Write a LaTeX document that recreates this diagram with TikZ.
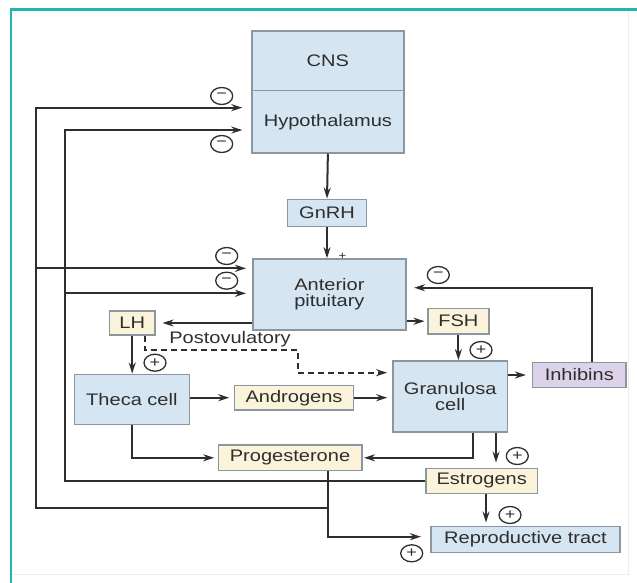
\documentclass[tikz,border=0pt]{standalone}
\usepackage{fontspec}
\setmainfont[FakeStretch=1.2]{Liberation Sans}
\usetikzlibrary{arrows.meta,shapes.geometric,calc}

\definecolor{boxblue}{HTML}{D5E5F1}
\definecolor{boxcream}{HTML}{FBF3DA}
\definecolor{boxlilac}{HTML}{DCD3EB}
\definecolor{boxedge}{HTML}{8C96A0}
\definecolor{frameteal}{HTML}{22B5B0}
\definecolor{inktext}{HTML}{2E2E2E}

\tikzset{
	box/.style={draw=boxedge, line width=1.5pt, inner sep=0pt, align=center, text=inktext, font=\fontsize{16.7}{16}\selectfont},
	bluebox/.style={box, fill=boxblue},
	creambox/.style={box, fill=boxcream},
	lilacbox/.style={box, fill=boxlilac},
	arr/.style={line width=2pt, draw=inktext, -{Stealth[length=11pt,width=7pt]}},
	dashline/.style={arr, dash pattern=on 6pt off 4pt},
	signnode/.style={ellipse, draw=inktext, line width=1.3pt, minimum width=22pt, minimum height=17pt, inner sep=0pt, text=inktext, font=\fontsize{15}{15}\selectfont},
	label/.style={text=inktext, font=\fontsize{16.7}{16}\selectfont, inner sep=0pt}
}

\begin{document}
\begin{tikzpicture}[x=1pt, y=-1pt]
	\useasboundingbox (0,0) rectangle (637,583);

	% Frame
	\draw[black!7, line width=1pt] (628,9.5) -- (628,574) -- (11,574);
	\draw[frameteal, line width=2.5pt] (11,583) -- (11,9.5) -- (637,9.5);

	% Boxes
	\node[bluebox, minimum width=152.3pt, minimum height=59.7pt] (cns) at (327.9,60.9) {CNS};
	\node[bluebox, minimum width=152.3pt, minimum height=62.3pt] (hyp) at (327.9,121.85) {Hypothalamus};
	\node[bluebox, minimum width=79.4pt, minimum height=27.4pt] (gnrh) at (327,213) {GnRH};
	\node[bluebox, minimum width=153.3pt, minimum height=71pt] (ant) at (329.4,294.5) {Anterior\\pituitary};
	\node[creambox, minimum width=45.7pt, minimum height=24pt] (lh) at (132.2,323) {LH};
	\node[creambox, minimum width=61.3pt, minimum height=25.7pt] (fsh) at (458.4,321.2) {FSH};
	\node[bluebox, minimum width=115.3pt, minimum height=50pt] (theca) at (131.9,399.3) {Theca cell};
	\node[creambox, minimum width=119.3pt, minimum height=24.7pt] (andr) at (294,397.7) {Androgens};
	\node[bluebox, minimum width=114.8pt, minimum height=71.2pt] (gran) at (450.2,396.4) {Granulosa\\cell};
	\node[lilacbox, minimum width=93.3pt, minimum height=25.4pt] (inh) at (579.3,375) {Inhibins};
	\node[creambox, minimum width=143.5pt, minimum height=25.5pt] (prog) at (290,457.8) {Progesterone};
	\node[creambox, minimum width=111.3pt, minimum height=25pt] (est) at (481.7,480.8) {Estrogens};
	\node[bluebox, minimum width=189pt, minimum height=25.6pt] (rep) at (525.5,539.5) {Reproductive tract};

	% Points
	\coordinate (lhdash) at ([xshift=12.8pt]lh.south);
	\coordinate (postbend) at (297.5,350);
	\coordinate (grandash) at ([yshift=23.7pt]gran.west);
	\coordinate (inhout) at ([xshift=12.4pt]inh.north);
	\coordinate (antinh) at ([yshift=6.8pt]ant.east);
	\coordinate (granprog) at ([xshift=22.5pt]gran.south);
	\coordinate (granest) at ([xshift=45.8pt]gran.south);
	\coordinate (estout) at ([xshift=4.3pt]est.south);
	\coordinate (progout) at ([xshift=38.3pt]prog.south);
	\coordinate (repin) at ([yshift=2.8pt]rep.west);
	\coordinate (railA) at (36,508);
	\coordinate (railB) at (65,480);
	\coordinate (hypA) at ([yshift=14.2pt]hyp.west);
	\coordinate (hypB) at ([yshift=-8.2pt]hyp.west);
	\coordinate (antA) at ([yshift=26.2pt]ant.west);
	\coordinate (antB) at ([yshift=1.2pt]ant.west);

	% Main axis
	\draw[arr] (hyp.south) -- (gnrh.north);
	\draw[arr] (gnrh.south) -- (gnrh.south |- ant.north);
	\node[text=inktext, font=\fontsize{11}{11}\selectfont, inner sep=0pt] (plusgn) at (342.5,256) {+};

	% Pituitary outputs
	\draw[arr, shorten >=6.7pt] (ant.west |- lh) -- (lh.east);
	\draw[arr, shorten >=2.5pt] (ant.east |- fsh) -- (fsh.west);
	\draw[arr] (lh.south) -- (lh.south |- theca.north);
	\draw[arr] (fsh.south) -- (fsh.south |- gran.north);

	% Postovulatory
	\draw[dashline, shorten >=5pt] (lhdash) |- (postbend) |- (grandash);
	\node[label] (postov) at (230,339.3) {Postovulatory};

	% Ovary
	\draw[arr, shorten >=4.4pt] (theca.east |- andr) -- (andr.west);
	\draw[arr, shorten >=4.8pt] (andr.east) -- (andr.east -| gran.west);
	\draw[arr, shorten >=6pt] (gran.east |- inh) -- (inh.west);
	\draw[arr, shorten >=7.3pt] (inhout) |- (antinh);
	\draw[arr, shorten >=1.5pt] (granprog) |- (prog.east);
	\draw[arr, shorten >=5pt] (granest) -- (granest |- est.north);
	\draw[arr, shorten >=3.4pt] (estout) -- (estout |- rep.north);
	\draw[arr, shorten >=3.3pt] (theca.south) |- (prog.west);
	\draw[arr, shorten >=9.3pt] (progout) |- (repin);

	% Feedback
	\draw[arr, shorten >=8.7pt] (progout |- railA) -- (railA) |- (hypA);
	\draw[arr, shorten >=6pt] (antA -| railA) -- (antA);
	\draw[arr, shorten >=8.7pt] (est.west) -- (est.west -| railB) |- (hypB);
	\draw[arr, shorten >=6pt] (antB -| railB) -- (antB);

	% Sign tags
	\foreach \n/\x/\y in {mh1/221.7/96, mh2/221.7/144, ma1/226.7/256, ma2/226.7/280.7, mi/438.3/275} {
		\node[signnode] (\n) at (\x,\y) {−};
	}
	\foreach \n/\x/\y in {plh/155/362.7, pfsh/481/350, pest/517.3/456, prep/510/515, pprog/411.7/553.3} {
		\node[signnode] (\n) at (\x,\y) {+};
	}
\end{tikzpicture}
\end{document}
